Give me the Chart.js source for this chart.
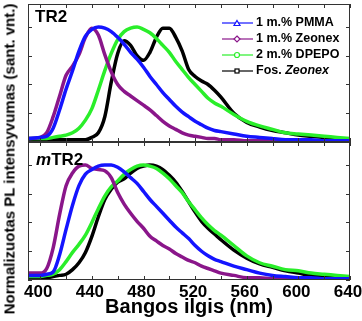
<!DOCTYPE html>
<html lang="lt">
<head>
    <meta charset="UTF-8">
    <title>PL spektrai TR2 / mTR2</title>
    <script src="https://cdn.jsdelivr.net/npm/chart.js"></script>
    <style>
        body {
            margin: 0;
            background: #fff;
            font-family: "Liberation Sans", Arial, sans-serif;
        }
        #wrap {
            position: relative;
            width: 362px;
            height: 321px;
            overflow: hidden;
        }
        canvas {
            position: absolute;
            left: 0;
        }
        #topChart { top: 0; }
        #bottomChart { top: 138px; }
        .panelLabel {
            position: absolute;
            font-weight: bold;
            font-size: 17px;
            line-height: 17px;
        }
        #ytitle {
            position: absolute;
            left: 9px;
            top: 159px;
            transform: translate(-50%, -50%) rotate(-90deg);
            white-space: nowrap;
            font-weight: bold;
            font-size: 15px;
        }
        #legend {
            position: absolute;
            left: 222px;
            top: 14px;
            font-weight: bold;
            font-size: 12.5px;
        }
        #legend div {
            height: 16px;
            line-height: 16px;
            white-space: nowrap;
        }
        #legend svg {
            vertical-align: middle;
            margin-right: 3px;
        }
    </style>
</head>
<body>
<div id="wrap">
    <canvas id="topChart" width="362" height="146"></canvas>
    <canvas id="bottomChart" width="362" height="183"></canvas>
    <div class="panelLabel" style="left:35px;top:8px;">TR2</div>
    <div class="panelLabel" style="left:36px;top:151px;"><i>m</i>TR2</div>
    <div id="ytitle">Normalizuotas PL intensyvumas (sant. vnt.)</div>
    <div id="legend"></div>
</div>

<script>
    const wavelengths = [390, 400, 405, 410, 415, 420, 425, 430, 435, 440, 445, 450, 455, 460, 465, 470,
        475, 480, 485, 490, 495, 500, 505, 510, 515, 520, 525, 530, 535, 540, 550, 560, 570, 580, 590,
        600, 610, 620, 630, 640];
    const xTicks = [400, 440, 480, 520, 560, 600, 640];

    const seriesNames = ['1 m.% PMMA', '1 m.% Zeonex', '2 m.% DPEPO', 'Fos. Zeonex'];

    // TR2 (virsutinis)
    const tr2Pmma = [.03, .04, .05, .12, .28, .46, .62, .79, .92, .98, 1.0, .99, .96, .91, .85, .78,
        .72, .65, .57, .50, .43, .37, .31, .26, .22, .18, .15, .12, .10, .09, .07, .05, .04, .03, .02,
        .02, .02, .01, .01, .01];
    const tr2Zeonex = [.03, .04, .08, .22, .40, .58, .66, .76, .91, .99, .93, .76, .61, .50, .44, .40,
        .36, .32, .28, .23, .18, .14, .11, .08, .06, .05, .04, .03, .03, .02, .02, .01, .01, .01, .01,
        .01, .01, .01, .01, .01];
    const tr2Dpepo = [.03, .03, .03, .04, .05, .06, .08, .12, .19, .29, .45, .62, .77, .89, .96, .99,
        1.0, .98, .95, .90, .84, .78, .70, .63, .56, .50, .44, .38, .34, .31, .24, .18, .14, .11, .08,
        .07, .06, .05, .04, .03];
    const tr2Fos = [.02, .02, .02, .02, .02, .02, .02, .02, .02, .04, .08, .22, .52, .77, .88, .84,
        .75, .71, .78, .91, .99, .99, .91, .79, .63, .57, .53, .50, .45, .39, .25, .17, .13, .10, .08,
        .06, .05, .04, .03, .02];

    // mTR2 (apatinis)
    const mtr2Pmma = [.04, .04, .05, .07, .22, .44, .65, .82, .92, .96, .99, 1.0, 1.0, .98, .94, .89,
        .84, .77, .70, .64, .58, .52, .46, .41, .36, .30, .25, .21, .18, .16, .12, .09, .06, .04, .03,
        .02, .02, .01, .01, .01];
    const mtr2Zeonex = [.06, .06, .10, .28, .57, .82, .93, .99, 1.0, .97, .96, .95, .89, .76, .66, .58,
        .51, .45, .38, .34, .30, .27, .23, .20, .17, .15, .12, .10, .08, .06, .04, .02, .02, .01, .01,
        .01, .01, .01, .01, .01];
    const mtr2Dpepo = [.03, .03, .04, .05, .09, .16, .24, .31, .39, .50, .62, .73, .81, .86, .92, .96,
        .99, 1.0, .99, .97, .93, .88, .82, .76, .68, .61, .54, .48, .43, .39, .30, .21, .15, .12, .09,
        .08, .06, .05, .04, .03];
    const mtr2Fos = [.02, .02, .02, .03, .04, .05, .09, .15, .24, .38, .55, .70, .79, .85, .88, .93,
        .97, .99, 1.0, .99, .96, .91, .85, .77, .68, .59, .51, .45, .40, .35, .26, .19, .14, .11, .08,
        .06, .04, .03, .02, .02];

    const colors = ['#1414ff', '#8a168a', '#2aee2a', '#000000'];
    const markers = ['triangle', 'diamond', 'circle', 'square'];

    function toPoints(values) {
        return values.map((v, i) => ({ x: wavelengths[i], y: v }));
    }

    function makeDatasets(valueSets) {
        return valueSets.map((vals, i) => ({
            label: seriesNames[i],
            data: toPoints(vals),
            borderColor: colors[i],
            borderWidth: 3.5,
            pointRadius: 0,
            cubicInterpolationMode: 'monotone',
            fill: false
        }));
    }

    // remelis su vidinemis padalomis (kaip MATLAB)
    const framePlugin = {
        id: 'frame',
        afterDraw(chart) {
            const { ctx, chartArea: a, scales } = chart;
            const x = scales.x, y = scales.y;
            ctx.save();
            ctx.strokeStyle = '#333';
            ctx.lineWidth = 1;
            ctx.strokeRect(a.left + 0.5, a.top + 0.5, a.right - a.left - 1, a.bottom - a.top - 1);
            ctx.beginPath();
            for (let v = 400; v <= 640; v += 20) {
                const px = Math.round(x.getPixelForValue(v)) + 0.5;
                ctx.moveTo(px, a.top); ctx.lineTo(px, a.top + 4);
                ctx.moveTo(px, a.bottom); ctx.lineTo(px, a.bottom - 4);
            }
            for (let v = 0; v <= 1.0; v += 0.25) {
                const py = Math.round(y.getPixelForValue(v)) + 0.5;
                ctx.moveTo(a.left, py); ctx.lineTo(a.left + 4, py);
                ctx.moveTo(a.right, py); ctx.lineTo(a.right - 4, py);
            }
            ctx.stroke();
            ctx.restore();
        }
    };

    function renderPanel(canvasId, valueSets, showX) {
        const ctx = document.getElementById(canvasId).getContext('2d');
        return new Chart(ctx, {
            type: 'line',
            data: { datasets: makeDatasets(valueSets) },
            options: {
                responsive: false,
                animation: false,
                layout: { padding: { left: 28, right: 12, top: 4, bottom: showX ? 0 : 4 } },
                scales: {
                    x: {
                        type: 'linear',
                        min: 390.5,
                        max: 640,
                        display: showX,
                        grid: { display: false, drawTicks: false },
                        border: { display: false },
                        afterBuildTicks: (scale) => {
                            scale.ticks = xTicks.map(v => ({ value: v }));
                        },
                        afterFit: (scale) => {
                            if (!showX) return;
                            scale.height = 41;
                            scale.paddingLeft = 0;
                            scale.paddingRight = 0;
                        },
                        ticks: {
                            color: '#000',
                            padding: 2,
                            labelOffset: -2,
                            maxRotation: 0,
                            autoSkip: false,
                            font: { family: 'Liberation Sans', size: 17, weight: 'bold' }
                        },
                        title: {
                            display: true,
                            text: 'Bangos ilgis (nm)',
                            color: '#000',
                            padding: { top: 0, bottom: 2 },
                            font: { family: 'Liberation Sans', size: 20, weight: 'bold' }
                        }
                    },
                    y: {
                        min: 0,
                        max: 1.2,
                        display: false
                    }
                },
                plugins: {
                    legend: { display: false },
                    tooltip: { enabled: false }
                }
            },
            plugins: [framePlugin]
        });
    }

    renderPanel('topChart', [tr2Pmma, tr2Zeonex, tr2Dpepo, tr2Fos], false);
    renderPanel('bottomChart', [mtr2Pmma, mtr2Zeonex, mtr2Dpepo, mtr2Fos], true);

    // legenda
    function markerSvg(color, kind) {
        let m;
        if (kind === 'triangle') m = '<polygon points="15,1.5 18,6.5 12,6.5" fill="#fff" stroke="' + color + '" stroke-width="1.2"/>';
        else if (kind === 'diamond') m = '<polygon points="15,1 18,4 15,7 12,4" fill="#fff" stroke="' + color + '" stroke-width="1.2"/>';
        else if (kind === 'circle') m = '<circle cx="15" cy="4" r="2.5" fill="#fff" stroke="' + color + '" stroke-width="1.2"/>';
        else m = '<rect x="13" y="2" width="4" height="4" fill="#fff" stroke="' + color + '" stroke-width="1.2"/>';
        return '<svg width="31" height="8"><line x1="0" y1="4" x2="31" y2="4" stroke="' + color + '" stroke-width="1.2"/>' + m + '</svg>';
    }
    const legendLabels = ['1 m.% PMMA', '1 m.% Zeonex', '2 m.% DPEPO', 'Fos. <i>Zeonex</i>'];
    document.getElementById('legend').innerHTML = legendLabels
        .map((t, i) => '<div>' + markerSvg(colors[i], markers[i]) + t + '</div>')
        .join('');
</script>
</body>
</html>
